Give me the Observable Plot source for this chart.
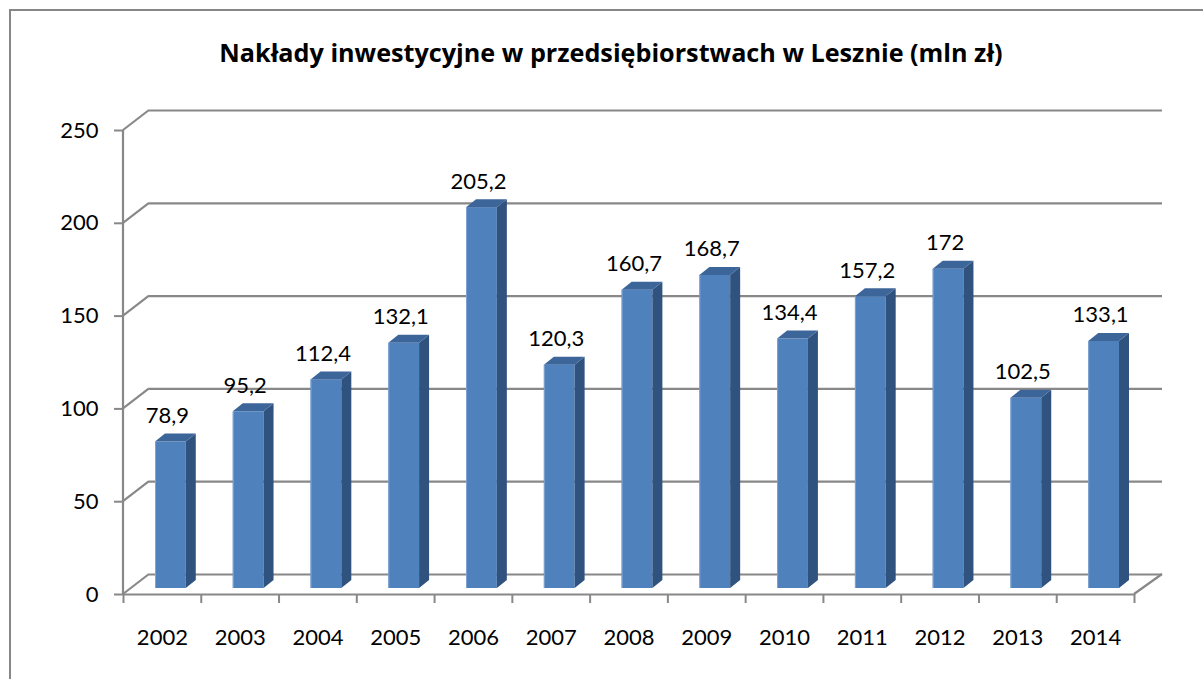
<!DOCTYPE html>
<html>
<head>
<meta charset="utf-8">
<script src="https://cdn.jsdelivr.net/npm/d3@7"></script>
<script src="https://cdn.jsdelivr.net/npm/@observablehq/plot@0.6"></script>
<style>
  html, body { margin: 0; padding: 0; background: #fff; }
  #wrap { position: relative; width: 1203px; height: 679px; overflow: hidden; }
  #border { position: absolute; left: 9px; top: 9px; width: 1300px; height: 800px;
            border-left: 2.5px solid #878787; border-top: 2.5px solid #878787; }
  #chart { position: absolute; left: 0; top: 0; }
</style>
</head>
<body>
<div id="wrap"><div id="border"></div><div id="chart"></div></div>
<script>
const title = "Nakłady inwestycyjne w przedsiębiorstwach w Lesznie (mln zł)";
const years = ["2002","2003","2004","2005","2006","2007","2008","2009","2010","2011","2012","2013","2014"];
const values = [78.9, 95.2, 112.4, 132.1, 205.2, 120.3, 160.7, 168.7, 134.4, 157.2, 172, 102.5, 133.1];
const yTicks = [0, 50, 100, 150, 200, 250];

const data = years.map((y, i) => ({year: y, value: values[i]}));
const fmt = v => String(v).replace(".", ",");

const W = 1203, H = 679;
const mL = 123, mR = 69, mT = 130, mB = 85;
const bw = (W - mL - mR) / years.length;
const backDx = 26, backDy = -20;   // back wall offset
const depthDx = 10, depthDy = -8;  // bar depth
const barDy = -6;
const gridColor = "#888888";

const chart = Plot.plot({
  width: W, height: H,
  marginLeft: mL, marginRight: mR, marginTop: mT, marginBottom: mB,
  style: {fontFamily: "Lato, 'Open Sans', sans-serif", fontSize: "22px", color: "black", background: "transparent"},
  x: {domain: years, padding: 0, round: false, label: null},
  y: {domain: [0, 250], label: null},
  marks: [
    // back-wall gridlines
    Plot.ruleY(yTicks, {dx: backDx, dy: backDy, stroke: gridColor, strokeWidth: 2.2, insetRight: -2}),
    // front floor line
    Plot.ruleY([0], {stroke: gridColor, strokeWidth: 2.2}),
    // y axis ticks and labels
    Plot.axisY(yTicks, {text: null, tickSize: 9, stroke: gridColor, strokeWidth: 2}),
    Plot.axisY(yTicks, {tickSize: 0, tickPadding: 25, fill: "black", fontSize: 22}),
    // x axis tick marks at band boundaries
    Plot.axisX(years, {text: null, tickSize: 9, dx: -bw / 2, stroke: gridColor, strokeWidth: 2}),
    Plot.axisX([years[years.length - 1]], {text: null, tickSize: 9, dx: bw / 2, stroke: gridColor, strokeWidth: 2}),
    Plot.axisX(years, {tickSize: 0, tickPadding: 35, fill: "black", fontSize: 22}),
    // bars (front faces)
    Plot.barY(data, {x: "year", y: "value", fill: "#4F81BD", insetLeft: 32, insetRight: 15, dy: barDy}),
    // value labels
    Plot.text(data, {x: "year", y: "value", text: d => fmt(d.value), dx: 5, dy: -25, lineAnchor: "bottom", fill: "black", fontSize: 22}),
    // title
    Plot.text([title], {frameAnchor: "top", dx: -18, dy: -77, lineAnchor: "middle", fontWeight: "bold", fontSize: 25.2, fill: "black", fontFamily: "'Open Sans', Lato, sans-serif"})
  ]
});

document.getElementById("chart").appendChild(chart);

// 3D decorations derived from the rendered scales / marks
const svg = d3.select(chart.tagName.toLowerCase() === "svg" ? chart : chart.querySelector("svg"));
const ys = chart.scale("y");
const yf = ys.apply ? (v => ys.apply(v)) : d3.scaleLinear(ys.domain, ys.range);
const xs = chart.scale("x");
const x0 = xs.range[0], x1 = xs.range[1];

const deco = svg.insert("g", ":first-child").attr("stroke", gridColor).attr("stroke-width", 2.2).attr("fill", "none");
// left wall diagonals
yTicks.forEach(v => {
  deco.append("line").attr("x1", x0).attr("y1", yf(v)).attr("x2", x0 + backDx).attr("y2", yf(v) + backDy);
});
// right floor diagonal
deco.append("line").attr("x1", x1).attr("y1", yf(0)).attr("x2", x1 + backDx + 2).attr("y2", yf(0) + backDy);
// front vertical axis line
deco.append("line").attr("x1", x0).attr("y1", yf(250)).attr("x2", x0).attr("y2", yf(0) + 1);

// bar side & top faces
svg.selectAll('g[aria-label="bar"]').each(function() {
  const g = d3.select(this);
  g.selectAll("rect").each(function() {
    const r = d3.select(this);
    const x = +r.attr("x"), y = +r.attr("y"), w = +r.attr("width"), h = +r.attr("height");
    g.append("polygon")
      .attr("points", [[x + w, y + h], [x + w + depthDx, y + h + depthDy], [x + w + depthDx, y + depthDy], [x + w, y]].map(p => p.join(",")).join(" "))
      .attr("fill", "#30527F");
    g.append("polygon")
      .attr("points", [[x, y], [x + depthDx, y + depthDy], [x + w + depthDx, y + depthDy], [x + w, y]].map(p => p.join(",")).join(" "))
      .attr("fill", "#3C659A");
    g.append("line").attr("x1", x + 0.5).attr("x2", x + 0.5).attr("y1", y).attr("y2", y + h)
      .attr("stroke", "#7FA3D2").attr("stroke-width", 1);
  });
});
</script>
</body>
</html>
